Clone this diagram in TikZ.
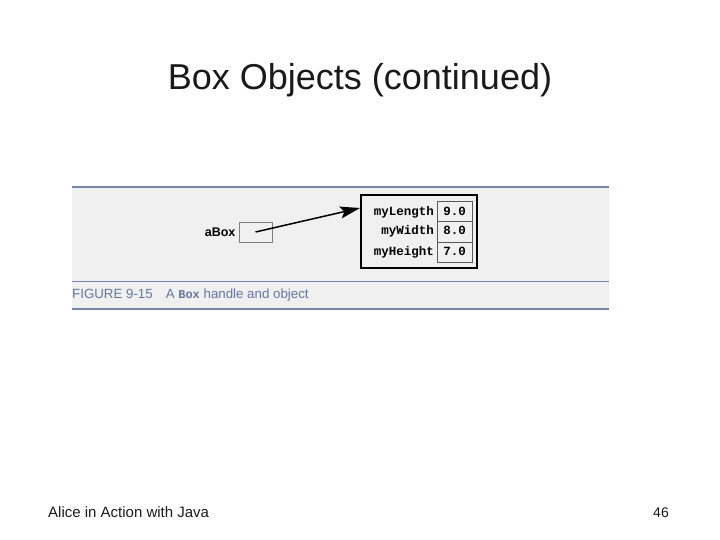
\documentclass[tikz,border=0pt]{standalone}
\usepackage{fontspec}
\setmainfont{Liberation Sans}
\setmonofont{Liberation Mono}
\usetikzlibrary{positioning,arrows.meta,calc}
\definecolor{figRule}{RGB}{118,134,172}
\definecolor{figBack}{RGB}{240,240,241}
\definecolor{figCap}{RGB}{100,118,160}
\definecolor{slideText}{RGB}{26,26,26}

\begin{document}
\begin{tikzpicture}[x=1pt,y=-1pt,
    valcell/.style={draw=black!65, line width=1pt, minimum width=35pt, minimum height=20pt, outer sep=0pt,
      inner sep=0pt, text height=8pt, text depth=2pt, font=\ttfamily\bfseries\fontsize{12.5}{13}\selectfont},
    fieldname/.style={inner sep=0pt, text height=8pt, text depth=2pt, font=\ttfamily\bfseries\fontsize{12.5}{13}\selectfont}]
  \useasboundingbox (0,0) rectangle (720,540);
  % Slide title
  \node[anchor=base, text=slideText, font=\fontsize{36}{40}\selectfont] (title) at (360,90) {Box Objects (continued)};

  % Figure panel
  \fill[figBack] (72,187) rectangle (609,309);
  \draw[figRule, line width=2.5pt] (72,187) -- (609,187);
  \draw[figRule, line width=1pt] (72,281) -- (609,281);
  \draw[figRule, line width=2pt] (72,309) -- (609,309);

  % Handle variable
  \node[draw=black!50, line width=0.8pt, minimum width=33pt, minimum height=20pt] (handle) at (255.5,232) {};
  \node[left=3pt of handle, inner sep=0pt, font=\bfseries\fontsize{12.5}{13}\selectfont] (handlename) {aBox};

  % Box object
  \node[draw, line width=1.8pt, minimum width=116pt, minimum height=73pt] (obj) at (419,231.5) {};
  \node[valcell] (lenval) at (454.5,212) {9.0};
  \node[valcell, below=0pt of lenval] (widval) {8.0};
  \node[valcell, below=0pt of widval] (hgtval) {7.0};
  \node[fieldname, left=3pt of lenval] (lenname) {myLength};
  \node[fieldname, left=3pt of widval] (widname) {myWidth};
  \node[fieldname, left=3pt of hgtval] (hgtname) {myHeight};

  % Reference arrow
  \coordinate (tip) at (360,208);
  \draw[-{Stealth[length=20pt,width=12pt,inset=4pt]}, line width=1.5pt] (handle.center) -- (tip);

  % Caption
  \node[anchor=base west, inner sep=0pt, text=figCap, font=\fontsize{13.3}{15}\selectfont] (caption) at (72,298)
    {FIGURE 9-15\hspace*{13pt}A {\ttfamily\bfseries\fontsize{12}{14}\selectfont Box} handle and object};

  % Footer
  \node[anchor=base west, inner sep=0pt, text=slideText, font=\fontsize{15}{18}\selectfont] (course) at (48,517) {Alice in Action with Java};
  \node[anchor=base east, inner sep=0pt, text=slideText, font=\fontsize{14}{17}\selectfont] (pagenum) at (669,517) {46};
\end{tikzpicture}
\end{document}
